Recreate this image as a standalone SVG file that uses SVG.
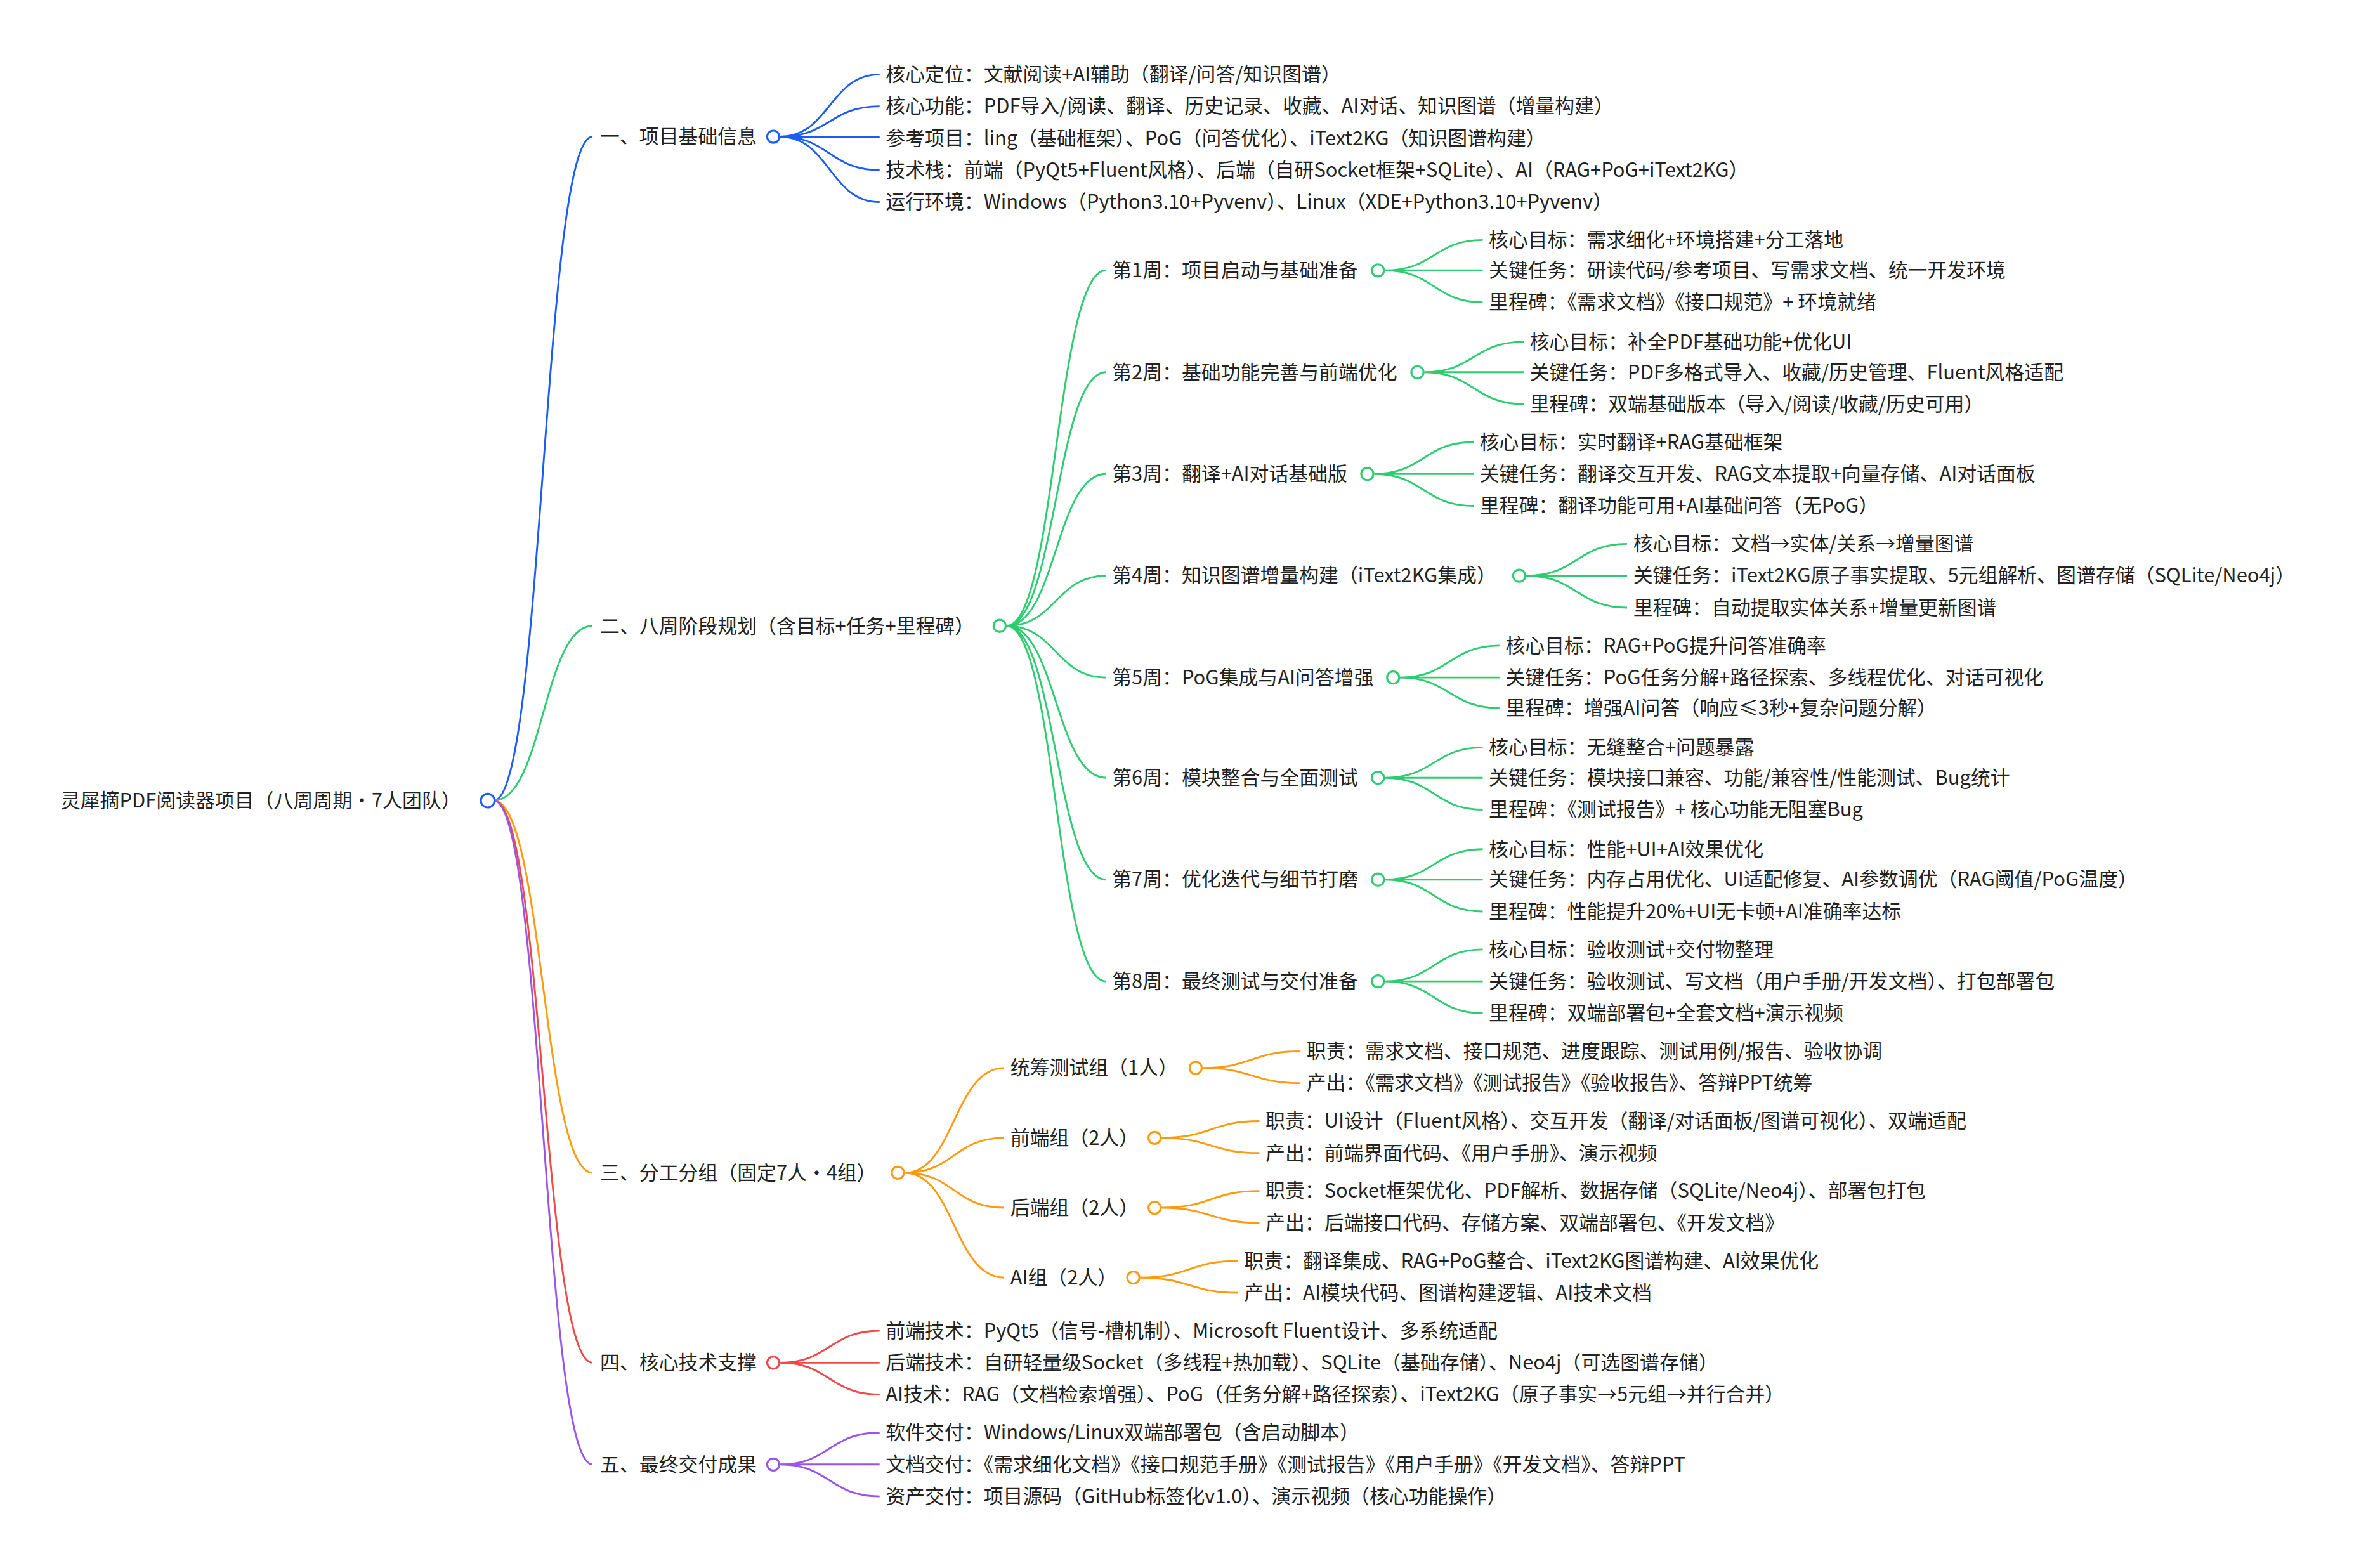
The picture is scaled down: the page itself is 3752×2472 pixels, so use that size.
<svg xmlns="http://www.w3.org/2000/svg" width="3752" height="2472" viewBox="0 0 3752 2472">
<style>
text{font-family:"Noto Sans CJK SC","Noto Sans",sans-serif;font-size:12.9px;fill:#222}
path{fill:none;stroke-width:1.2}
circle{fill:#fff;stroke-width:1.3}
.b{stroke:#1a5cf5}.g{stroke:#2ecc71}.o{stroke:#ff9a10}.r{stroke:#f04848}.p{stroke:#9a55e8}
</style>
<rect width="3752" height="2472" fill="#fff"/>
<g transform="scale(2.395)">
<g id="connectors">
<path class="b" d="M325 527C357.5 527 357.5 90 390 90"/>
<path class="g" d="M325 527C357.5 527 357.5 412 390 412"/>
<path class="o" d="M325 527C357.5 527 357.5 772 390 772"/>
<path class="r" d="M325 527C357.5 527 357.5 897 390 897"/>
<path class="p" d="M325 527C357.5 527 357.5 964 390 964"/>
<path class="b" d="M513.5 90C546 90 546 49 579 49M513.5 90C546 90 546 70 579 70M513.5 90L579 90M513.5 90C546 90 546 112 579 112M513.5 90C546 90 546 133 579 133"/>
<path class="g" d="M662.5 412C695 412 695 178 728 178M662.5 412C695 412 695 245 728 245M662.5 412C695 412 695 312 728 312M662.5 412C695 412 695 379 728 379M662.5 412C695 412 695 446 728 446M662.5 412C695 412 695 512 728 512M662.5 412C695 412 695 579 728 579M662.5 412C695 412 695 646 728 646"/>
<path class="g" d="M911.5 178C944 178 944 158 976 158M911.5 178L976 178M911.5 178C944 178 944 199 976 199"/>
<path class="g" d="M937.5 245C970 245 970 225 1003 225M937.5 245L1003 245M937.5 245C970 245 970 266 1003 266"/>
<path class="g" d="M904.5 312C937 312 937 291 970 291M904.5 312L970 312M904.5 312C937 312 937 333 970 333"/>
<path class="g" d="M1004.5 379C1038 379 1038 358 1071 358M1004.5 379L1071 379M1004.5 379C1038 379 1038 400 1071 400"/>
<path class="g" d="M921.5 446C954 446 954 425 987 425M921.5 446L987 446M921.5 446C954 446 954 466 987 466"/>
<path class="g" d="M911.5 512C944 512 944 492 976 492M911.5 512L976 512M911.5 512C944 512 944 533 976 533"/>
<path class="g" d="M911.5 579C944 579 944 559 976 559M911.5 579L976 579M911.5 579C944 579 944 600 976 600"/>
<path class="g" d="M911.5 646C944 646 944 625 976 625M911.5 646L976 646M911.5 646C944 646 944 667 976 667"/>
<path class="o" d="M595.5 772C628 772 628 703 661 703M595.5 772C628 772 628 749 661 749M595.5 772C628 772 628 795 661 795M595.5 772C628 772 628 841 661 841"/>
<path class="o" d="M791.5 703C824 703 824 692 856 692M791.5 703C824 703 824 713 856 713"/>
<path class="o" d="M764.5 749C797 749 797 738 829 738M764.5 749C797 749 797 759 829 759"/>
<path class="o" d="M764.5 795C797 795 797 784 829 784M764.5 795C797 795 797 805 829 805"/>
<path class="o" d="M750.5 841C783 841 783 830 815 830M750.5 841C783 841 783 851 815 851"/>
<path class="r" d="M513.5 897C546 897 546 876 579 876M513.5 897L579 897M513.5 897C546 897 546 918 579 918"/>
<path class="p" d="M513.5 964C546 964 546 943 579 943M513.5 964L579 964M513.5 964C546 964 546 985 579 985"/>
</g>
<g id="root"><text x="40" y="531.5">灵犀摘PDF阅读器项目（八周周期・7人团队）</text><circle class="b" cx="321" cy="527" r="4.5"/></g>
<g id="n1"><text x="395" y="94.5">一、项目基础信息</text><circle class="b" cx="509" cy="90" r="4"/>
<text x="583" y="53.5">核心定位：文献阅读+AI辅助（翻译/问答/知识图谱）</text>
<text x="583" y="74.5">核心功能：PDF导入/阅读、翻译、历史记录、收藏、AI对话、知识图谱（增量构建）</text>
<text x="583" y="95.5">参考项目：ling（基础框架）、PoG（问答优化）、iText2KG（知识图谱构建）</text>
<text x="583" y="116.5">技术栈：前端（PyQt5+Fluent风格）、后端（自研Socket框架+SQLite）、AI（RAG+PoG+iText2KG）</text>
<text x="583" y="137.5">运行环境：Windows（Python3.10+Pyvenv）、Linux（XDE+Python3.10+Pyvenv）</text></g>
<g id="n2"><text x="395" y="416.5">二、八周阶段规划（含目标+任务+里程碑）</text><circle class="g" cx="658" cy="412" r="4"/></g>
<g id="w1"><text x="732" y="182.5">第1周：项目启动与基础准备</text><circle class="g" cx="907" cy="178" r="4"/>
<text x="980" y="162.5">核心目标：需求细化+环境搭建+分工落地</text>
<text x="980" y="182.5">关键任务：研读代码/参考项目、写需求文档、统一开发环境</text>
<text x="980" y="203.5">里程碑：《需求文档》《接口规范》+ 环境就绪</text></g>
<g id="w2"><text x="732" y="249.5">第2周：基础功能完善与前端优化</text><circle class="g" cx="933" cy="245" r="4"/>
<text x="1007" y="229.5">核心目标：补全PDF基础功能+优化UI</text>
<text x="1007" y="249.5">关键任务：PDF多格式导入、收藏/历史管理、Fluent风格适配</text>
<text x="1007" y="270.5">里程碑：双端基础版本（导入/阅读/收藏/历史可用）</text></g>
<g id="w3"><text x="732" y="316.5">第3周：翻译+AI对话基础版</text><circle class="g" cx="900" cy="312" r="4"/>
<text x="974" y="295.5">核心目标：实时翻译+RAG基础框架</text>
<text x="974" y="316.5">关键任务：翻译交互开发、RAG文本提取+向量存储、AI对话面板</text>
<text x="974" y="337.5">里程碑：翻译功能可用+AI基础问答（无PoG）</text></g>
<g id="w4"><text x="732" y="383.5">第4周：知识图谱增量构建（iText2KG集成）</text><circle class="g" cx="1000" cy="379" r="4"/>
<text x="1075" y="362.5">核心目标：文档→实体/关系→增量图谱</text>
<text x="1075" y="383.5">关键任务：iText2KG原子事实提取、5元组解析、图谱存储（SQLite/Neo4j）</text>
<text x="1075" y="404.5">里程碑：自动提取实体关系+增量更新图谱</text></g>
<g id="w5"><text x="732" y="450.5">第5周：PoG集成与AI问答增强</text><circle class="g" cx="917" cy="446" r="4"/>
<text x="991" y="429.5">核心目标：RAG+PoG提升问答准确率</text>
<text x="991" y="450.5">关键任务：PoG任务分解+路径探索、多线程优化、对话可视化</text>
<text x="991" y="470.5">里程碑：增强AI问答（响应≤3秒+复杂问题分解）</text></g>
<g id="w6"><text x="732" y="516.5">第6周：模块整合与全面测试</text><circle class="g" cx="907" cy="512" r="4"/>
<text x="980" y="496.5">核心目标：无缝整合+问题暴露</text>
<text x="980" y="516.5">关键任务：模块接口兼容、功能/兼容性/性能测试、Bug统计</text>
<text x="980" y="537.5">里程碑：《测试报告》+ 核心功能无阻塞Bug</text></g>
<g id="w7"><text x="732" y="583.5">第7周：优化迭代与细节打磨</text><circle class="g" cx="907" cy="579" r="4"/>
<text x="980" y="563.5">核心目标：性能+UI+AI效果优化</text>
<text x="980" y="583.5">关键任务：内存占用优化、UI适配修复、AI参数调优（RAG阈值/PoG温度）</text>
<text x="980" y="604.5">里程碑：性能提升20%+UI无卡顿+AI准确率达标</text></g>
<g id="w8"><text x="732" y="650.5">第8周：最终测试与交付准备</text><circle class="g" cx="907" cy="646" r="4"/>
<text x="980" y="629.5">核心目标：验收测试+交付物整理</text>
<text x="980" y="650.5">关键任务：验收测试、写文档（用户手册/开发文档）、打包部署包</text>
<text x="980" y="671.5">里程碑：双端部署包+全套文档+演示视频</text></g>
<g id="n3"><text x="395" y="776.5">三、分工分组（固定7人・4组）</text><circle class="o" cx="591" cy="772" r="4"/></g>
<g id="g1"><text x="665" y="707.5">统筹测试组（1人）</text><circle class="o" cx="787" cy="703" r="4"/>
<text x="860" y="696.5">职责：需求文档、接口规范、进度跟踪、测试用例/报告、验收协调</text>
<text x="860" y="717.5">产出：《需求文档》《测试报告》《验收报告》、答辩PPT统筹</text></g>
<g id="g2"><text x="665" y="753.5">前端组（2人）</text><circle class="o" cx="760" cy="749" r="4"/>
<text x="833" y="742.5">职责：UI设计（Fluent风格）、交互开发（翻译/对话面板/图谱可视化）、双端适配</text>
<text x="833" y="763.5">产出：前端界面代码、《用户手册》、演示视频</text></g>
<g id="g3"><text x="665" y="799.5">后端组（2人）</text><circle class="o" cx="760" cy="795" r="4"/>
<text x="833" y="788.5">职责：Socket框架优化、PDF解析、数据存储（SQLite/Neo4j）、部署包打包</text>
<text x="833" y="809.5">产出：后端接口代码、存储方案、双端部署包、《开发文档》</text></g>
<g id="g4"><text x="665" y="845.5">AI组（2人）</text><circle class="o" cx="746" cy="841" r="4"/>
<text x="819" y="834.5">职责：翻译集成、RAG+PoG整合、iText2KG图谱构建、AI效果优化</text>
<text x="819" y="855.5">产出：AI模块代码、图谱构建逻辑、AI技术文档</text></g>
<g id="n4"><text x="395" y="901.5">四、核心技术支撑</text><circle class="r" cx="509" cy="897" r="4"/>
<text x="583" y="880.5">前端技术：PyQt5（信号-槽机制）、Microsoft Fluent设计、多系统适配</text>
<text x="583" y="901.5">后端技术：自研轻量级Socket（多线程+热加载）、SQLite（基础存储）、Neo4j（可选图谱存储）</text>
<text x="583" y="922.5">AI技术：RAG（文档检索增强）、PoG（任务分解+路径探索）、iText2KG（原子事实→5元组→并行合并）</text></g>
<g id="n5"><text x="395" y="968.5">五、最终交付成果</text><circle class="p" cx="509" cy="964" r="4"/>
<text x="583" y="947.5">软件交付：Windows/Linux双端部署包（含启动脚本）</text>
<text x="583" y="968.5">文档交付：《需求细化文档》《接口规范手册》《测试报告》《用户手册》《开发文档》、答辩PPT</text>
<text x="583" y="989.5">资产交付：项目源码（GitHub标签化v1.0）、演示视频（核心功能操作）</text></g>
</g>
</svg>
